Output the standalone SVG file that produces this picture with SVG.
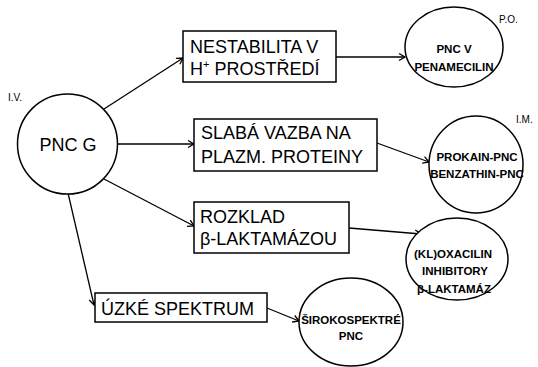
<svg xmlns="http://www.w3.org/2000/svg" width="538" height="367" viewBox="0 0 538 367">
<style>
.bg{fill:#fff}
.node{fill:#fff;stroke:#000;stroke-width:1.5}
.edge{fill:none;stroke:#000;stroke-width:1.3}
.bt{font-family:"Liberation Sans",Arial,sans-serif;font-size:18px;fill:#000}
.ct{font-family:"Liberation Sans",Arial,sans-serif;font-size:11.5px;font-weight:bold;fill:#000;text-anchor:middle}
.st{font-family:"Liberation Sans",Arial,sans-serif;font-size:10px;fill:#000}
</style>
<defs>
<marker id="arr" markerWidth="10" markerHeight="10" refX="8" refY="5" orient="auto" markerUnits="userSpaceOnUse">
<path d="M2,1.5 L8,5 L2,8.5" fill="none" stroke="#000" stroke-width="1.3"/>
</marker>
</defs>
<rect class="bg" x="0" y="0" width="538" height="367"/>
<g id="connectors">
<line class="edge" x1="104" y1="109" x2="183" y2="58" marker-end="url(#arr)"/>
<line class="edge" x1="118" y1="144" x2="194" y2="144" marker-end="url(#arr)"/>
<line class="edge" x1="104" y1="179" x2="194" y2="226" marker-end="url(#arr)"/>
<line class="edge" x1="68" y1="193" x2="94" y2="305" marker-end="url(#arr)"/>
<line class="edge" x1="336" y1="57" x2="405" y2="57" marker-end="url(#arr)"/>
<line class="edge" x1="377" y1="143" x2="429" y2="162" marker-end="url(#arr)"/>
<line class="edge" x1="349" y1="228" x2="421" y2="234" marker-end="url(#arr)"/>
<line class="edge" x1="267" y1="308" x2="299" y2="321" marker-end="url(#arr)"/>
</g>
<g id="pncg">
<circle class="node" cx="67.5" cy="144" r="50"/>
<text class="bt" x="68" y="151" text-anchor="middle">PNC G</text>
<text class="st" x="8" y="101">I.V.</text>
</g>
<g id="box1">
<rect class="node" x="183" y="31" width="153" height="51"/>
<text class="bt" x="190" y="53">NESTABILITA V</text>
<text class="bt" x="190" y="75">H<tspan font-size="11" dy="-7">+</tspan><tspan dy="7"> PROSTŘEDÍ</tspan></text>
</g>
<g id="box2">
<rect class="node" x="194" y="119" width="183" height="52"/>
<text class="bt" x="201" y="139">SLABÁ VAZBA NA</text>
<text class="bt" x="201" y="163">PLAZM. PROTEINY</text>
</g>
<g id="box3">
<rect class="node" x="194" y="202" width="155" height="51"/>
<text class="bt" x="200" y="223">ROZKLAD</text>
<text class="bt" x="200" y="245">β-LAKTAMÁZOU</text>
</g>
<g id="box4">
<rect class="node" x="95" y="293" width="172" height="29"/>
<text class="bt" x="101" y="315">ÚZKÉ SPEKTRUM</text>
</g>
<g id="c1">
<ellipse class="node" cx="454" cy="47" rx="49" ry="40"/>
<text class="ct" x="454" y="53">PNC V</text>
<text class="ct" x="454" y="71">PENAMECILIN</text>
<text class="st" x="499" y="23">P.O.</text>
</g>
<g id="c2">
<ellipse class="node" cx="476" cy="164.5" rx="47" ry="48.5"/>
<text class="ct" x="477" y="161">PROKAIN-PNC</text>
<text class="ct" x="477" y="178">BENZATHIN-PNC</text>
<text class="st" x="516" y="123">I.M.</text>
</g>
<g id="c3">
<ellipse class="node" cx="457" cy="259" rx="51" ry="41"/>
<text class="ct" x="453" y="258">(KL)OXACILIN</text>
<text class="ct" x="455" y="275">INHIBITORY</text>
<text class="ct" x="454" y="293">β-LAKTAMÁZ</text>
</g>
<g id="c4">
<ellipse class="node" cx="351" cy="322" rx="52" ry="44"/>
<text class="ct" x="351" y="324">ŠIROKOSPEKTRÉ</text>
<text class="ct" x="351" y="340">PNC</text>
</g>
</svg>
